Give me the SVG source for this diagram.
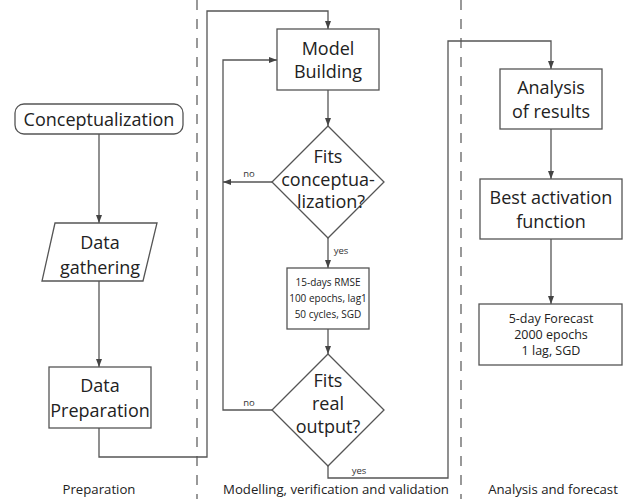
<svg xmlns="http://www.w3.org/2000/svg" width="628" height="499" viewBox="0 0 628 499">
<defs>
<marker id="arr" markerUnits="userSpaceOnUse" markerWidth="8" markerHeight="8" viewBox="0 0 8 8" refX="8" refY="4" orient="auto">
<path d="M0,1 L8,4 L0,7 Z" fill="#444"/>
</marker>
<style>
.box{fill:#fff;stroke:#555;stroke-width:1.3}
.con{fill:none;stroke:#555;stroke-width:1.3}
.dash{fill:none;stroke:#555;stroke-width:1.2;stroke-dasharray:10 9}
.big{font-family:"Open Sans","Noto Sans",sans-serif;font-size:18px;fill:#222;text-anchor:middle;dominant-baseline:central}
.mid{font-family:"Open Sans","Noto Sans",sans-serif;font-size:10px;fill:#222;text-anchor:middle;dominant-baseline:central}
.fc{font-family:"Open Sans","Noto Sans",sans-serif;font-size:12.5px;fill:#222;text-anchor:middle;dominant-baseline:central}
.sm{font-family:"Open Sans","Noto Sans",sans-serif;font-size:9.5px;fill:#333;text-anchor:middle;dominant-baseline:central}
.lab{font-family:"Open Sans","Noto Sans",sans-serif;font-size:13.2px;fill:#222;text-anchor:middle;dominant-baseline:central}
</style>
</defs>
<rect width="628" height="499" fill="#fff"/>
<g id="separators">
<line class="dash" x1="197" y1="0" x2="197" y2="499"/>
<line class="dash" x1="461" y1="0" x2="461" y2="499"/>
</g>
<g id="connectors">
<path class="con" d="M99 134 V223" marker-end="url(#arr)"/>
<path class="con" d="M99 281 V367" marker-end="url(#arr)"/>
<path class="con" d="M99 428 V457 H207 V11 H328 V29" marker-end="url(#arr)"/>
<path class="con" d="M328 90 V126" marker-end="url(#arr)"/>
<path class="con" d="M272 182 H223" marker-end="url(#arr)"/>
<path class="con" d="M328 238 V268" marker-end="url(#arr)"/>
<path class="con" d="M328 329 V354" marker-end="url(#arr)"/>
<path class="con" d="M272 410 H223 V60 H277" marker-end="url(#arr)"/>
<path class="con" d="M328 466 V478 H448 V41 H551 V69" marker-end="url(#arr)"/>
<path class="con" d="M551 129 V179" marker-end="url(#arr)"/>
<path class="con" d="M551 239 V304" marker-end="url(#arr)"/>
<text class="sm" x="249" y="173">no</text>
<text class="sm" x="341" y="250">yes</text>
<text class="sm" x="249" y="402">no</text>
<text class="sm" x="359" y="470">yes</text>
</g>
<g id="conceptualization">
<rect class="box" x="15" y="104" width="168" height="30" rx="9"/>
<text class="big" x="99" y="119">Conceptualization</text>
</g>
<g id="data-gathering">
<path class="box" d="M55 223 H157 L143 281 H42 Z"/>
<text class="big" x="100" y="242">Data</text>
<text class="big" x="100" y="267">gathering</text>
</g>
<g id="data-preparation">
<rect class="box" x="49" y="367" width="102" height="61"/>
<text class="big" x="100" y="385">Data</text>
<text class="big" x="100" y="410">Preparation</text>
</g>
<g id="model-building">
<rect class="box" x="277" y="29" width="102" height="61"/>
<text class="big" x="328" y="48">Model</text>
<text class="big" x="328" y="71">Building</text>
</g>
<g id="fits-conceptualization">
<path class="box" d="M328 126 L384 182 L328 238 L272 182 Z"/>
<text class="big" x="328" y="156">Fits</text>
<text class="big" x="328" y="179">conceptua-</text>
<text class="big" x="331" y="201">lization?</text>
</g>
<g id="rmse-box">
<rect class="box" x="287" y="268" width="82" height="61"/>
<text class="mid" x="328" y="282">15-days RMSE</text>
<text class="mid" x="328" y="298">100 epochs, lag1</text>
<text class="mid" x="328" y="314">50 cycles, SGD</text>
</g>
<g id="fits-real-output">
<path class="box" d="M328 354 L384 410 L328 466 L272 410 Z"/>
<text class="big" x="328" y="380">Fits</text>
<text class="big" x="328" y="403">real</text>
<text class="big" x="328" y="426">output?</text>
</g>
<g id="analysis">
<rect class="box" x="500" y="69" width="102" height="60"/>
<text class="big" x="551" y="87">Analysis</text>
<text class="big" x="551" y="111">of results</text>
</g>
<g id="best-activation">
<rect class="box" x="480" y="179" width="142" height="60"/>
<text class="big" x="551" y="197">Best activation</text>
<text class="big" x="551" y="221">function</text>
</g>
<g id="forecast">
<rect class="box" x="479" y="304" width="143" height="61"/>
<text class="fc" x="551" y="318">5-day Forecast</text>
<text class="fc" x="551" y="334">2000 epochs</text>
<text class="fc" x="551" y="350">1 lag, SGD</text>
</g>
<g id="phase-labels">
<text class="lab" x="99" y="489">Preparation</text>
<text class="lab" x="336" y="489">Modelling, verification and validation</text>
<text class="lab" x="553" y="489">Analysis and forecast</text>
</g>
</svg>
